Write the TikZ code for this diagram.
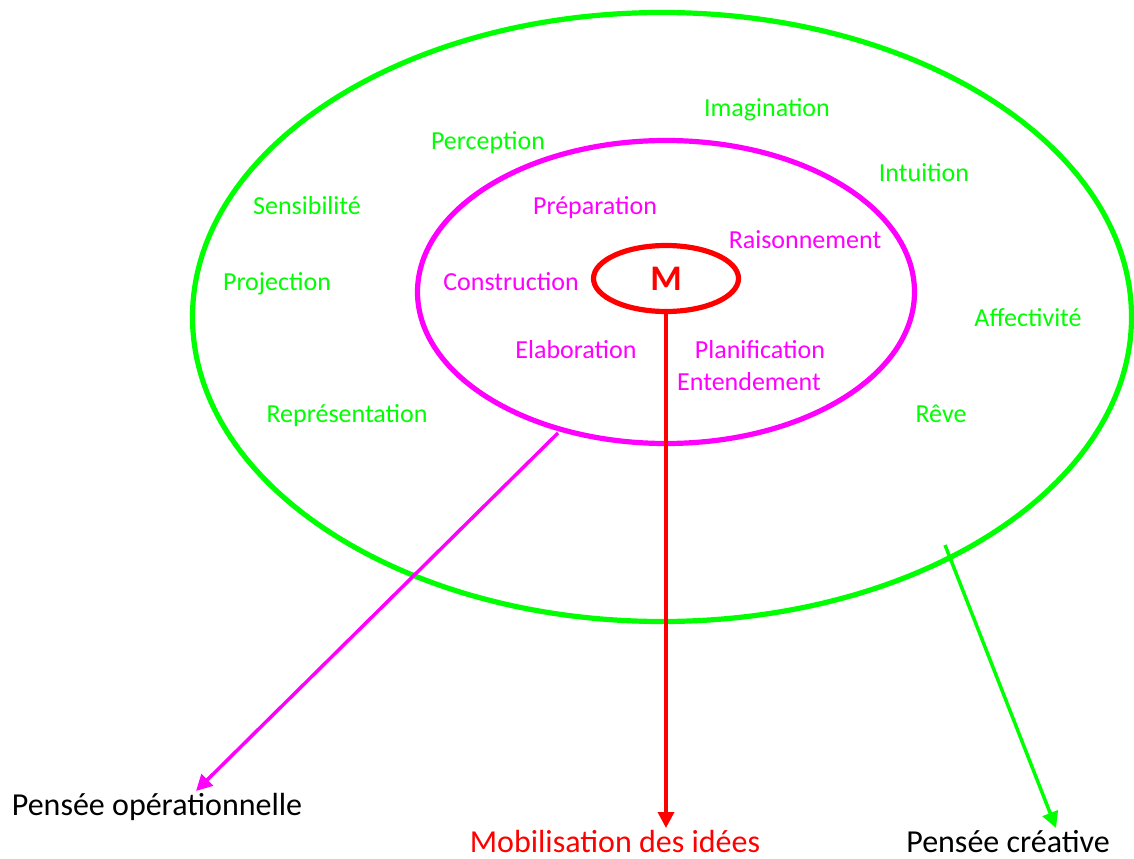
\documentclass[tikz,border=0pt]{standalone}
\usepackage{fontspec}
\setmainfont{Carlito}
\usetikzlibrary{arrows.meta,shapes.geometric}
\definecolor{gr}{RGB}{0,255,0}
\definecolor{mg}{RGB}{255,0,255}
\definecolor{rd}{RGB}{255,0,0}
\begin{document}
\begin{tikzpicture}[x=0.75pt,y=-0.75pt,
  ring/.style={draw,ellipse,inner sep=0pt,line width=3.9pt},
  lbl/.style={inner sep=0pt,anchor=base,font=\fontsize{19.5}{22}\selectfont},
  glbl/.style={lbl,text=gr},
  mlbl/.style={lbl,text=mg},
  big/.style={inner sep=0pt,anchor=base,font=\fontsize{24}{28}\selectfont},
  arr/.style={line width=2.6pt,-{Triangle[length=12pt,width=12pt]}}]
\useasboundingbox (0,0) rectangle (1134,859);
% rings
\node[ring,gr,minimum width=939pt*0.75,minimum height=609pt*0.75] (outer) at (662,317) {};
\node[ring,mg,minimum width=497pt*0.75,minimum height=303pt*0.75] (middle) at (666,292) {};
\node[ring,rd,minimum width=145pt*0.75,minimum height=66pt*0.75] (inner) at (666,278.5) {};
\node[text=rd,font=\fontsize{27}{30}\selectfont\bfseries,inner sep=0pt] (M) at (666,279) {M};
% green labels
\node[glbl] (imag) at (767,117) {Imagination};
\node[glbl] (perc) at (488,150) {Perception};
\node[glbl] (intu) at (924,182) {Intuition};
\node[glbl] (sens) at (307,215) {Sensibilité};
\node[glbl] (proj) at (277,290) {Projection};
\node[glbl] (affe) at (1028,326) {Affectivité};
\node[glbl] (repr) at (347,422) {Représentation};
\node[glbl] (reve) at (941,422) {Rêve};
% magenta labels
\node[mlbl] (prep) at (595,215) {Préparation};
\node[mlbl] (rais) at (805,248) {Raisonnement};
\node[mlbl] (cons) at (511,290) {Construction};
\node[mlbl] (elab) at (576,358) {Elaboration};
\node[mlbl] (plan) at (760,358) {Planification};
\node[mlbl] (ente) at (749,390) {Entendement};
% bottom labels
\node[big,text=black] (op) at (157,815) {Pensée opérationnelle};
\node[big,text=rd] (mob) at (615,852) {Mobilisation des idées};
\node[big,text=black] (cr) at (1008,852) {Pensée créative};
% connectors
\coordinate (mstart) at (558,433);
\coordinate (mend) at (196,791);
\coordinate (gstart) at (945,545);
\coordinate (gend) at (1056,828);
\coordinate (rend) at (666,828);
\draw[arr,rd] (inner.south) -- (rend);
\draw[arr,mg] (mstart) -- (mend);
\draw[arr,gr] (gstart) -- (gend);
\end{tikzpicture}
\end{document}
